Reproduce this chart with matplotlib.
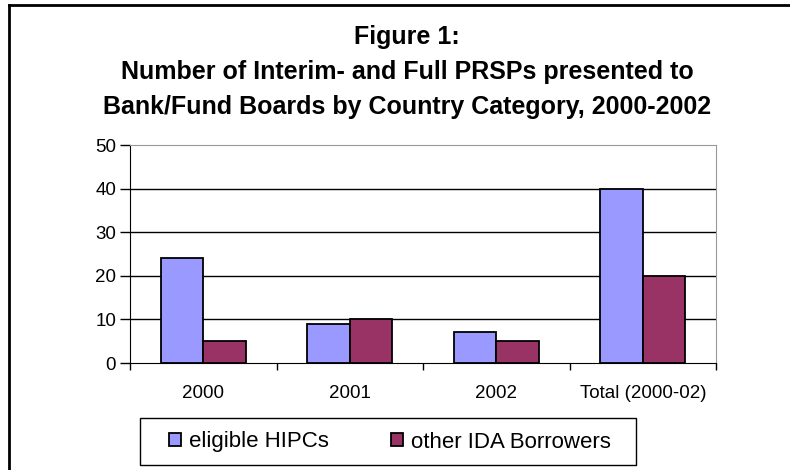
import matplotlib.pyplot as plt
import numpy as np
from matplotlib.patches import Rectangle
from matplotlib.lines import Line2D

plt.rcParams['font.family'] = ['Liberation Sans', 'DejaVu Sans']

categories = ['2000', '2001', '2002', 'Total (2000-02)']
hipcs = [24, 9, 7, 40]
ida = [5, 10, 5, 20]
names = ['eligible HIPCs', 'other IDA Borrowers']

W, H = 790, 470
fig = plt.figure(figsize=(7.9, 4.7), dpi=100)
ax = fig.add_axes([130/W, 1-363/H, (716-130)/W, (363-145)/H])

x = np.arange(len(categories))
w = 0.29
ax.bar(x - w/2, hipcs, w, color='#9999FF', edgecolor='black', linewidth=1.3, label=names[0], zorder=3)
ax.bar(x + w/2, ida, w, color='#993366', edgecolor='black', linewidth=1.3, label=names[1], zorder=3)

ax.set_xlim(-0.5, 3.5)
ax.set_ylim(0, 50)
ax.set_yticks([0, 10, 20, 30, 40, 50])
ax.set_xticks(x)
ax.set_xticklabels(categories)
ax.set_xticks(np.arange(-0.5, 4, 1), minor=True)
ax.tick_params(axis='x', which='major', length=0, labelsize=13.5, pad=16)
ax.tick_params(axis='x', which='minor', length=5, direction='out', width=1)
ax.tick_params(axis='y', length=7, direction='out', labelsize=13.5, width=1, pad=3)
for v in [10, 20, 30, 40]:
    ax.axhline(v, color='black', linewidth=1, zorder=1)

for s in ['top', 'right']:
    ax.spines[s].set_color('#999999')
for s in ['left', 'bottom']:
    ax.spines[s].set_color('black')

# title, three lines
fig.text(407/W, 1-37/H, 'Figure 1:', ha='center', va='center', fontsize=18, fontweight='bold')
fig.text(407/W, 1-72/H, 'Number of Interim- and Full PRSPs presented to', ha='center', va='center', fontsize=18, fontweight='bold')
fig.text(407/W, 1-107/H, 'Bank/Fund Boards by Country Category, 2000-2002', ha='center', va='center', fontsize=18, fontweight='bold')

# legend box drawn separately
fig.patches.append(Rectangle((140/W, 1-465/H), (636-140)/W, (465-418)/H, transform=fig.transFigure,
                             fill=False, edgecolor='black', linewidth=1))
leg = fig.legend(loc='center', bbox_to_anchor=(390/W, 1-442/H), ncol=2, frameon=False,
                 fontsize=16, handlelength=0.55, handleheight=0.55, handletextpad=0.35,
                 columnspacing=2.8)

# outer border (left and top only visible)
fig.lines.append(Line2D([9/W, 9/W], [0, 1-5/H], transform=fig.transFigure, color='black', linewidth=2))
fig.lines.append(Line2D([9/W, 1], [1-5/H, 1-5/H], transform=fig.transFigure, color='black', linewidth=2))

fig.savefig('out.png', dpi=100)
